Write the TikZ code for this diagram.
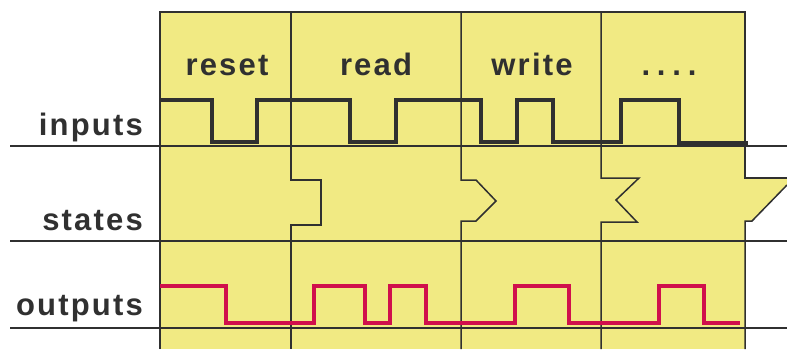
\documentclass[tikz,border=0pt]{standalone}
\usepackage{fontspec}
\setmainfont{Liberation Sans}

\definecolor{pad}{RGB}{241,234,131}
\definecolor{sig}{RGB}{208,16,76}
\definecolor{ink}{RGB}{48,48,48}

\tikzset{
  frame/.style={draw=ink, line width=1.5pt},
  rule/.style={draw=ink, line width=2.3pt},
  inwave/.style={draw=ink, line width=3.8pt},
  outwave/.style={draw=sig, line width=3.8pt},
  rowlabel/.style={font=\fontsize{31}{31}\selectfont\bfseries\addfontfeature{LetterSpace=7}, text=ink, anchor=base east, inner sep=0pt},
  phase/.style={font=\fontsize{31}{31}\selectfont\bfseries\addfontfeature{LetterSpace=7}, text=ink, anchor=base, inner sep=0pt}
}

\begin{document}
\begin{tikzpicture}[x=1pt,y=-1pt]
\useasboundingbox (0,0) rectangle (787,349);

% yellow background, with the last state running off to the right
\fill[pad] (160,12) rectangle (745,349);
\fill[pad] (745,178) -- (787,178) -- (787,185) -- (752,221) -- (745,221) -- cycle;

% column borders and state edges
\draw[frame] (160,349) -- (160,12) -- (745,12) -- (745,178) -- (787,178);
\draw[frame] (787,185) -- (752,221) -- (745,221) -- (745,349);
\draw[frame] (291,12) -- (291,180) -- (321,180) -- (321,225) -- (291,225) -- (291,349);
\draw[frame] (461,12) -- (461,180) -- (476,180) -- (496,201) -- (476,221) -- (461,221) -- (461,349);
\draw[frame] (601,12) -- (601,178) -- (639,178) -- (616,200) -- (637,222) -- (601,222) -- (601,349);

% row lines
\draw[rule] (10,146) -- (787,146);
\draw[rule] (10,241) -- (787,241);
\draw[rule] (10,328) -- (787,328);

% inputs
\draw[inwave] (160,100) -- (212,100) -- (212,142) -- (257,142) -- (257,100) -- (350,100) -- (350,142) -- (396,142) -- (396,100) -- (481,100) -- (481,142) -- (517,142) -- (517,100) -- (553,100) -- (553,142) -- (621,142) -- (621,100) -- (679,100) -- (679,143) -- (748,143);

% outputs
\draw[outwave] (160,286) -- (226,286) -- (226,323) -- (314,323) -- (314,286) -- (365,286) -- (365,323) -- (390,323) -- (390,286) -- (426,286) -- (426,323) -- (515,323) -- (515,286) -- (569,286) -- (569,323) -- (659,323) -- (659,286) -- (704,286) -- (704,323) -- (740,323);

% labels
\node[rowlabel] (inputs) at (143,135) {inputs};
\node[rowlabel] (states) at (143,230) {states};
\node[rowlabel] (outputs) at (143,315) {outputs};

\node[phase] (reset) at (227,75) {reset};
\node[phase] (read) at (376,75) {read};
\node[phase] (write) at (532,75) {write};
\node[phase, font=\fontsize{31}{31}\selectfont\bfseries\addfontfeature{LetterSpace=22}] (more) at (669,75) {....};
\end{tikzpicture}
\end{document}
